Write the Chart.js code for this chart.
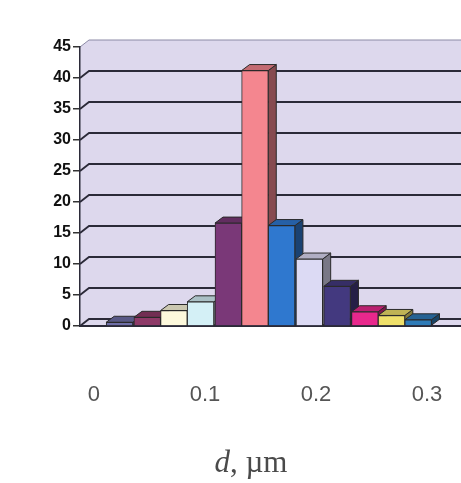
<!DOCTYPE html>
<html>
<head>
<meta charset="utf-8">
<title>Particle size distribution</title>
<script src="https://cdn.jsdelivr.net/npm/chart.js@4.4.1/dist/chart.umd.min.js"></script>
<style>
    html, body { margin: 0; padding: 0; background: #ffffff; }
    #wrap { position: relative; width: 461px; height: 483px; overflow: hidden; }
    #xTitle {
        position: absolute;
        left: 0;
        top: 444px;
        width: 502px;
        text-align: center;
        font-family: 'Liberation Serif', 'Times New Roman', serif;
        font-size: 31px;
        line-height: 36px;
        color: #4a4a4a;
    }
</style>
</head>
<body>
<div id="wrap">
    <canvas id="sizeChart" width="461" height="483"></canvas>
    <div id="xTitle"><i>d</i>, µm</div>
</div>

<script>
// ────────────────────────────────────────────────
// Data
// ────────────────────────────────────────────────
const binCenters = [0.023, 0.048, 0.072, 0.096, 0.121, 0.145, 0.169, 0.194, 0.219, 0.244, 0.268, 0.292];
const counts = [0.6, 1.4, 2.5, 3.9, 16.6, 41.2, 16.2, 10.8, 6.4, 2.3, 1.7, 1.0];
const barColors = [
    '#6f6fa8', '#8e3a68', '#fdf9dc', '#d4f0f6', '#7a3878', '#f4868f',
    '#2f78cf', '#dcdaf4', '#43397f', '#e8288c', '#efe06a', '#2e7bb8'
];
const xTickValues = [0, 0.1, 0.2, 0.3];
const yMax = 45;
const yStep = 5;

// depth of the fake 3D look
const WALL_DX = 9;
const WALL_DY = 7;
const BAR_DX = 8;
const BAR_DY = 6;

/**
 * Darken / lighten a hex colour
 * @param {string} hex
 * @param {number} f  multiplier
 */
function shade(hex, f) {
    const n = parseInt(hex.slice(1), 16);
    const c = [(n >> 16) & 255, (n >> 8) & 255, n & 255]
        .map(v => Math.max(0, Math.min(255, Math.round(v * f))));
    return `rgb(${c[0]}, ${c[1]}, ${c[2]})`;
}

// back wall, floor and the grid drawn on the wall
const wallPlugin = {
    id: 'wall3d',
    beforeDraw(chart) {
        const { ctx, chartArea: a, scales: { y } } = chart;
        ctx.save();
        ctx.fillStyle = '#ddd8ed';
        ctx.beginPath();
        ctx.moveTo(a.left, a.bottom);
        ctx.lineTo(a.left, a.top);
        ctx.lineTo(a.left + WALL_DX, a.top - WALL_DY);
        ctx.lineTo(a.right, a.top - WALL_DY);
        ctx.lineTo(a.right, a.bottom);
        ctx.closePath();
        ctx.fill();

        y.ticks.forEach(t => {
            const py = y.getPixelForValue(t.value);
            const isTop = t.value === yMax;
            ctx.strokeStyle = isTop ? '#8c8aa6' : '#2b2a38';
            ctx.lineWidth = isTop ? 1 : 1.8;
            ctx.beginPath();
            ctx.moveTo(a.left, py);
            ctx.lineTo(a.left + WALL_DX, py - WALL_DY);
            ctx.lineTo(a.right, py - WALL_DY);
            ctx.stroke();
        });
        ctx.restore();
    }
};

// side and top faces of each column, drawn before the front faces
const barDepthPlugin = {
    id: 'barDepth',
    beforeDatasetsDraw(chart) {
        const { ctx } = chart;
        const meta = chart.getDatasetMeta(0);
        ctx.save();
        ctx.strokeStyle = '#2a2a2a';
        ctx.lineWidth = 1;
        meta.data.forEach((bar, i) => {
            const { x, y, base, width } = bar.getProps(['x', 'y', 'base', 'width'], true);
            const l = x - width / 2;
            const r = x + width / 2;
            const col = barColors[i];

            // side face
            ctx.fillStyle = shade(col, 0.55);
            ctx.beginPath();
            ctx.moveTo(r, base);
            ctx.lineTo(r + BAR_DX, base - BAR_DY);
            ctx.lineTo(r + BAR_DX, y - BAR_DY);
            ctx.lineTo(r, y);
            ctx.closePath();
            ctx.fill();
            ctx.stroke();

            // top face
            ctx.fillStyle = shade(col, 0.8);
            ctx.beginPath();
            ctx.moveTo(l, y);
            ctx.lineTo(l + BAR_DX, y - BAR_DY);
            ctx.lineTo(r + BAR_DX, y - BAR_DY);
            ctx.lineTo(r, y);
            ctx.closePath();
            ctx.fill();
            ctx.stroke();
        });
        ctx.restore();
    }
};

const ctx = document.getElementById('sizeChart').getContext('2d');
const sizeChart = new Chart(ctx, {
    type: 'bar',
    data: {
        datasets: [{
            data: binCenters.map((d, i) => ({ x: d, y: counts[i] })),
            backgroundColor: barColors,
            borderColor: '#2a2a2a',
            borderWidth: 1,
            barPercentage: 1,
            categoryPercentage: 1
        }]
    },
    options: {
        responsive: false,
        animation: false,
        layout: { padding: { top: 47, right: 0, bottom: 0, left: 0 } },
        plugins: {
            legend: { display: false },
            tooltip: { enabled: false }
        },
        scales: {
            x: {
                type: 'linear',
                offset: false,
                min: -0.0126,
                max: 0.3306,
                afterBuildTicks: scale => {
                    scale.ticks = xTickValues.map(v => ({ value: v }));
                },
                afterFit: scale => {
                    scale.height = 157;
                    scale.paddingLeft = 0;
                    scale.paddingRight = 0;
                },
                grid: { display: false, drawTicks: false },
                border: { display: true, color: '#2b2a38', width: 2 },
                ticks: {
                    padding: 56,
                    color: '#555555',
                    font: { family: 'Liberation Sans', size: 22 },
                    callback: v => String(v)
                }
            },
            y: {
                min: 0,
                max: yMax,
                afterFit: scale => { scale.width = 80; },
                grid: {
                    drawOnChartArea: false,
                    drawTicks: true,
                    tickLength: 7,
                    color: '#333333',
                    lineWidth: 1.5
                },
                border: { display: true, color: '#2b2a38', width: 1.5 },
                ticks: {
                    stepSize: yStep,
                    padding: 2,
                    color: '#111111',
                    font: { family: 'Liberation Sans', size: 16, weight: 'bold' }
                }
            }
        }
    },
    plugins: [wallPlugin, barDepthPlugin]
});
</script>
</body>
</html>
